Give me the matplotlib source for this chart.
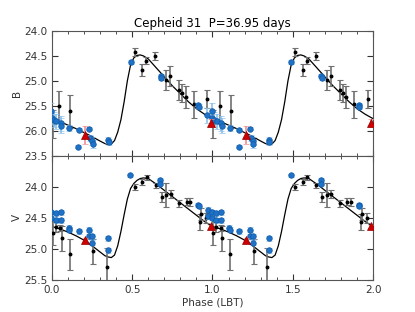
import numpy as np
import matplotlib
matplotlib.use("Agg")
import matplotlib.pyplot as plt

# template fit (one cycle)
curve_phase = [0.00, 0.05, 0.10, 0.15, 0.20, 0.25, 0.30, 0.33, 0.35, 0.37, 0.39, 0.41, 0.43,
               0.45, 0.47, 0.49, 0.51, 0.53, 0.55, 0.57, 0.60, 0.65, 0.70, 0.75, 0.80, 0.85,
               0.90, 0.95, 1.00]
curve_b = [25.76, 25.82, 25.89, 25.96, 26.04, 26.12, 26.21, 26.26, 26.28, 26.27, 26.20, 26.03,
           25.78, 25.42, 25.00, 24.68, 24.54, 24.49, 24.48, 24.50, 24.56, 24.74, 24.92, 25.10,
           25.26, 25.42, 25.56, 25.67, 25.76]
curve_v = [24.64, 24.68, 24.73, 24.79, 24.86, 24.95, 25.05, 25.11, 25.13, 25.14, 25.10, 24.95,
           24.72, 24.45, 24.20, 24.03, 23.95, 23.90, 23.87, 23.86, 23.87, 23.96, 24.06, 24.16,
           24.26, 24.36, 24.46, 24.56, 24.64]

# LBT points (black)
lbt_b_phase = [0.005, 0.045, 0.113, 0.516, 0.561, 0.589, 0.645, 0.710, 0.738, 0.792, 0.813,
               0.834, 0.884, 0.968]
lbt_b_mag = [25.86, 25.50, 25.61, 24.42, 24.78, 24.60, 24.51, 24.98, 24.90, 25.18, 25.25,
             25.33, 25.47, 25.36]
lbt_b_err = [0.28, 0.30, 0.33, 0.08, 0.12, 0.07, 0.08, 0.20, 0.20, 0.20, 0.18, 0.22, 0.27, 0.18]

lbt_v_phase = [0.004, 0.025, 0.050, 0.062, 0.112, 0.257, 0.341, 0.516, 0.563, 0.590, 0.646,
               0.683, 0.713, 0.740, 0.793, 0.840, 0.860, 0.925, 0.930, 0.960]
lbt_v_mag = [24.74, 24.65, 24.66, 24.83, 25.09, 25.04, 25.29, 24.01, 23.93, 23.85, 23.98,
             24.17, 24.13, 24.12, 24.27, 24.24, 24.25, 24.57, 24.44, 24.50]
lbt_v_err = [0.20, 0.08, 0.05, 0.20, 0.25, 0.20, 0.30, 0.05, 0.05, 0.04, 0.04, 0.08, 0.19,
             0.07, 0.06, 0.06, 0.06, 0.13, 0.10, 0.08]

# other survey (blue)
ext_b_phase = [-0.032, -0.005, -0.001, 0.012, 0.026, 0.055, 0.058, 0.108, 0.166, 0.164, 0.232,
               0.237, 0.251, 0.253, 0.351, 0.353, 0.490, 0.677, 0.679, 0.912, 0.914]
ext_b_mag = [25.69, 25.60, 25.74, 25.78, 25.81, 25.85, 25.90, 25.94, 25.98, 26.32, 25.96, 26.14,
             26.20, 26.27, 26.19, 26.22, 24.62, 24.91, 24.95, 25.49, 25.52]
ext_b_err = [0.15, 0.15, 0.15, 0.15, 0.15, 0.15, 0.15, 0.06, 0.03, 0.03, 0.03, 0.06, 0.08,
             0.08, 0.06, 0.06, 0.04, 0.04, 0.04, 0.05, 0.05]

ext_v_phase = [-0.028, -0.028, -0.003, -0.003, 0.025, 0.025, 0.055, 0.055, 0.105, 0.107, 0.166,
               0.231, 0.231, 0.252, 0.252, 0.351, 0.351, 0.489, 0.675, 0.675, 0.912, 0.913]
ext_v_mag = [24.37, 24.48, 24.41, 24.50, 24.43, 24.54, 24.41, 24.54, 24.66, 24.69, 24.72,
             24.69, 24.80, 24.80, 24.90, 24.83, 25.02, 23.82, 23.89, 23.95, 24.29, 24.31]
ext_v_err = [0.04, 0.04, 0.04, 0.04, 0.04, 0.04, 0.04, 0.04, 0.04, 0.04, 0.04, 0.04, 0.04,
             0.04, 0.04, 0.04, 0.04, 0.03, 0.03, 0.03, 0.03, 0.03]

# red triangles
tri_phase = [0.206, 0.990]
tri_b_mag = [26.08, 25.85]
tri_b_err = [0.18, 0.08]
tri_v_mag = [24.86, 24.64]
tri_v_err = [0.03, 0.03]

txt = "#333333"
plt.rcParams["font.family"] = ["DejaVu Sans"]
plt.rcParams["font.size"] = 7.5

fig, (ax1, ax2) = plt.subplots(2, 1, sharex=True, figsize=(4.15, 3.12), dpi=100)
fig.subplots_adjust(left=0.125, right=0.899, top=0.9006, bottom=0.1026, hspace=0)


def two_cycles(p, y):
    p = np.asarray(p)
    y = np.asarray(y)
    return np.concatenate([p, p + 1]), np.concatenate([y, y])


def draw(ax, cmag, lp, lm, le, ep, em, ee, tm, te):
    x, y = two_cycles(curve_phase, cmag)
    ax.plot(x, y, color="black", lw=0.9, zorder=2)
    x, y = two_cycles(lp, lm)
    _, e = two_cycles(lp, le)
    ax.errorbar(x, y, yerr=e, fmt="o", ms=1.8, color="black", ecolor="#707070",
                elinewidth=1.2, capsize=2.5, capthick=0.8, zorder=3)
    x, y = two_cycles(ep, em)
    _, e = two_cycles(ep, ee)
    ax.errorbar(x, y, yerr=e, fmt="o", ms=4.0, mfc="#1f72c6", mec="#0e5aa8", mew=0.5,
                ecolor="#8cc0ea", elinewidth=1.2, capsize=2.5, capthick=0.8, zorder=4)
    x, y = two_cycles(tri_phase, tm)
    _, e = two_cycles(tri_phase, te)
    ax.errorbar(x, y, yerr=e, fmt="^", ms=5.5, mfc="#cc0000", mec="#990000", mew=0.5,
                ecolor="#ee9090", elinewidth=1.2, capsize=2.5, capthick=0.8, zorder=5)


draw(ax1, curve_b, lbt_b_phase, lbt_b_mag, lbt_b_err, ext_b_phase, ext_b_mag, ext_b_err,
     tri_b_mag, tri_b_err)
draw(ax2, curve_v, lbt_v_phase, lbt_v_mag, lbt_v_err, ext_v_phase, ext_v_mag, ext_v_err,
     tri_v_mag, tri_v_err)

ax1.set_ylim(26.5, 24.0)
ax1.set_yticks([24.0, 24.5, 25.0, 25.5, 26.0])
ax2.set_ylim(25.5, 23.5)
ax2.set_yticks([23.5, 24.0, 24.5, 25.0, 25.5])
ax2.set_xlim(0.0, 2.0)
ax2.set_xticks([0.0, 0.5, 1.0, 1.5, 2.0])
ax2.set_xticks(np.arange(0, 2.01, 0.1), minor=True)

for ax in (ax1, ax2):
    ax.tick_params(which="both", direction="in", top=True, right=True, colors=txt,
                   labelcolor=txt)
    ax.tick_params(which="major", length=4)
    ax.tick_params(which="minor", length=2)
    ax.yaxis.set_major_formatter(matplotlib.ticker.FormatStrFormatter("%.1f"))
    for s in ax.spines.values():
        s.set_color("#555555")

ax2.xaxis.set_major_formatter(matplotlib.ticker.FormatStrFormatter("%.1f"))
ax1.set_ylabel("B", color=txt, labelpad=1)
ax2.set_ylabel("V", color=txt, labelpad=1)
ax2.set_xlabel("Phase (LBT)", color=txt, labelpad=2)
ax1.set_title("Cepheid 31  P=36.95 days", color="black", fontsize=8.5, pad=3)

fig.savefig("out.png", dpi=100)
